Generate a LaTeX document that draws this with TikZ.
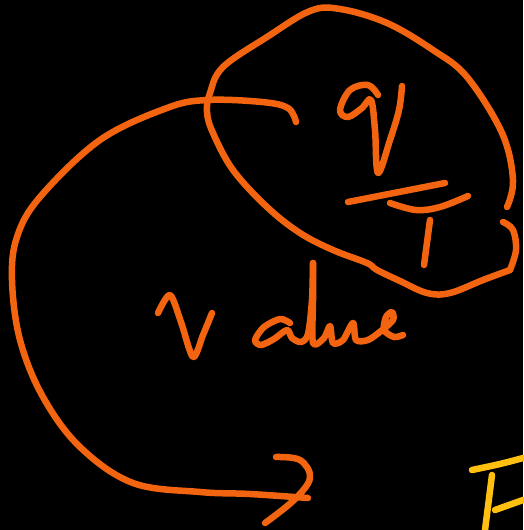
\documentclass[tikz,border=0pt]{standalone}
\definecolor{ink}{HTML}{F2640F}
\definecolor{inky}{HTML}{FFC010}
\tikzset{pen/.style={draw=ink,line width=6.5pt,line cap=round,line join=round},
 peny/.style={pen,draw=inky}}
\begin{document}
\begin{tikzpicture}[x=1pt,y=-1pt]
\fill[black] (0,0) rectangle (523,530);
\useasboundingbox (0,0) rectangle (523,530);
% head loop
\draw[pen] plot[smooth,tension=0.6] coordinates {(507,207) (513,180) (502,133) (467,77) (433,50) (387,23) (340,9) (310,11) (267,37) (223,67) (210,93) (207,112) (213,133) (233,170) (267,207) (300,233) (333,250) (367,263) (377,270) (400,281) (427,293) (450,293) (483,280) (510,270)};
\draw[pen] plot[smooth,tension=0.6] coordinates {(503,222) (513,230) (516,250) (510,270)};
% big arrow
\draw[pen] plot[smooth,tension=0.6] coordinates {(296,122) (288,108) (262,102) (207,100) (167,108) (100,140) (40,197) (17,237) (12,280) (20,340) (43,397) (80,447) (133,483) (200,492) (250,494) (308,498)};
\draw[pen] plot[smooth,tension=0.6] coordinates {(276,457) (300,460) (310,478) (294,500) (265,523)};
% v over T
\draw[pen] plot[smooth,tension=0.6] coordinates {(378,95) (368,85) (350,90) (340,110) (348,117) (362,108) (371,100) (375,130) (378,173) (390,140) (399,110) (402,86)};
\draw[pen] (348,202) -- (445,183);
\draw[pen] plot[smooth,tension=0.6] coordinates {(390,203) (416,210) (440,207) (468,196)};
\draw[pen] (430,220) -- (424,265);
% v
\draw[pen] plot[smooth,tension=0.5] coordinates {(158,313) (170,295) (181,322) (193,357) (203,335) (212,313)};
% alue
\draw[pen] plot[smooth,tension=0.5] coordinates {(290,323) (280,319) (264,327) (255,340) (261,345) (274,339) (287,330) (292,338) (301,342) (308,334) (312,300) (313,263)};
\draw[pen] plot[smooth,tension=0.5] coordinates {(313,263) (313,300) (313,343) (324,338) (330,326) (333,343) (343,340) (353,323) (356,340) (368,340) (381,331) (393,320) (392,312) (386,317) (384,330) (394,337) (403,335)};
% F
\draw[peny] plot[smooth,tension=0.5] coordinates {(472,470) (500,464) (523,458)};
\draw[peny] (492,475) -- (485,530);
\draw[peny] (495,510) -- (523,500);
\end{tikzpicture}
\end{document}
